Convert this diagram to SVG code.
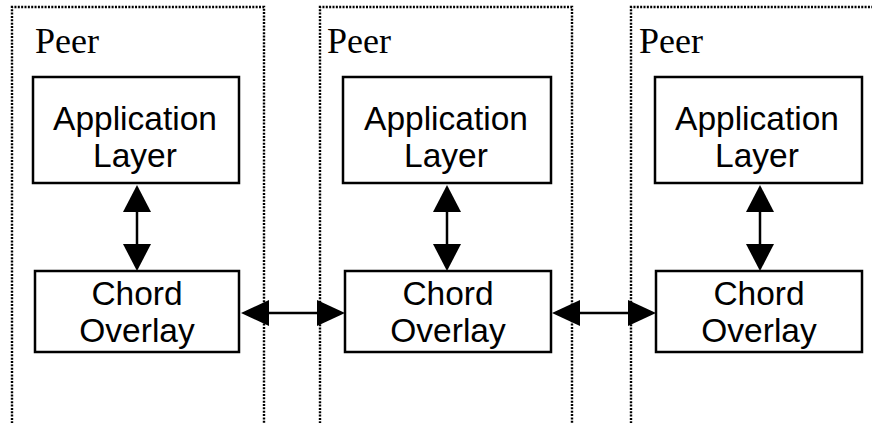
<svg xmlns="http://www.w3.org/2000/svg" width="872" height="423" viewBox="0 0 872 423">
  <style>
    .peer { fill: none; stroke: #000; stroke-width: 2.4; stroke-dasharray: 2 1.35; }
    .peer-label { font-family: "Liberation Serif", "Times New Roman", serif; font-size: 36px; fill: #000; }
    .box { fill: #fff; stroke: #000; stroke-width: 2.5; }
    .box-label { font-family: "Liberation Sans", Arial, sans-serif; font-size: 33.5px; fill: #000; text-anchor: middle; }
    .link { fill: none; stroke: #000; stroke-width: 2.5; }
    .head { fill: #000; }
  </style>

  <!-- Peer containers (dotted, open at the bottom/right edge of the canvas) -->
  <g id="peer-1">
    <path class="peer" d="M12 430 V7 H264 V430"/>
    <text class="peer-label" x="35" y="53">Peer</text>
  </g>
  <g id="peer-2">
    <path class="peer" d="M320 430 V7 H572 V430"/>
    <text class="peer-label" x="327" y="53">Peer</text>
  </g>
  <g id="peer-3">
    <path class="peer" d="M631 430 V7 H880"/>
    <text class="peer-label" x="639" y="53">Peer</text>
  </g>

  <!-- Layer boxes -->
  <g id="app-1">
    <rect class="box" x="33" y="77" width="206" height="106"/>
    <text class="box-label" x="135" y="130">Application</text>
    <text class="box-label" x="135" y="167">Layer</text>
  </g>
  <g id="chord-1">
    <rect class="box" x="35" y="271" width="204" height="81"/>
    <text class="box-label" x="137" y="305">Chord</text>
    <text class="box-label" x="137" y="342">Overlay</text>
  </g>
  <g id="app-2">
    <rect class="box" x="343" y="77" width="208" height="106"/>
    <text class="box-label" x="446" y="130">Application</text>
    <text class="box-label" x="446" y="167">Layer</text>
  </g>
  <g id="chord-2">
    <rect class="box" x="345" y="271" width="206" height="81"/>
    <text class="box-label" x="448" y="305">Chord</text>
    <text class="box-label" x="448" y="342">Overlay</text>
  </g>
  <g id="app-3">
    <rect class="box" x="655" y="77" width="207" height="106"/>
    <text class="box-label" x="757" y="130">Application</text>
    <text class="box-label" x="757" y="167">Layer</text>
  </g>
  <g id="chord-3">
    <rect class="box" x="656" y="271" width="206" height="81"/>
    <text class="box-label" x="759" y="305">Chord</text>
    <text class="box-label" x="759" y="342">Overlay</text>
  </g>

  <!-- Connectors: double-headed arrows -->
  <g id="connectors">
    <!-- vertical: application layer <-> chord overlay -->
    <line class="link" x1="137" y1="205" x2="137" y2="250"/>
    <polygon class="head" points="137,185 123,212 151,212"/>
    <polygon class="head" points="137,271 123,244 151,244"/>

    <line class="link" x1="447" y1="205" x2="447" y2="250"/>
    <polygon class="head" points="447,185 433,212 461,212"/>
    <polygon class="head" points="447,271 433,244 461,244"/>

    <line class="link" x1="760" y1="205" x2="760" y2="250"/>
    <polygon class="head" points="760,185 746,212 774,212"/>
    <polygon class="head" points="760,271 746,244 774,244"/>

    <!-- horizontal: chord overlay <-> chord overlay -->
    <line class="link" x1="262" y1="313" x2="325" y2="313"/>
    <polygon class="head" points="241,313 269,300 269,326"/>
    <polygon class="head" points="345,313 317,300 317,326"/>

    <line class="link" x1="573" y1="313" x2="636" y2="313"/>
    <polygon class="head" points="552,313 580,300 580,326"/>
    <polygon class="head" points="656,313 628,300 628,326"/>
  </g>
</svg>
